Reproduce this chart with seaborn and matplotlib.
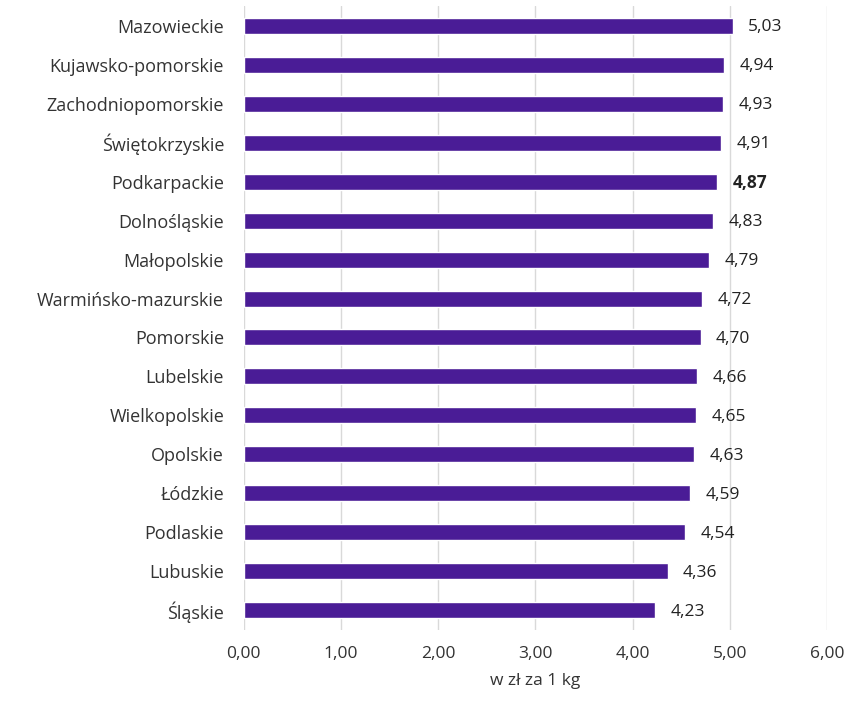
import pandas as pd
import matplotlib.pyplot as plt
import seaborn as sns

regions = ["Mazowieckie", "Kujawsko-pomorskie", "Zachodniopomorskie", "Świętokrzyskie",
           "Podkarpackie", "Dolnośląskie", "Małopolskie", "Warmińsko-mazurskie",
           "Pomorskie", "Lubelskie", "Wielkopolskie", "Opolskie", "Łódzkie",
           "Podlaskie", "Lubuskie", "Śląskie"]
prices = [5.03, 4.94, 4.93, 4.91, 4.87, 4.83, 4.79, 4.72, 4.70, 4.66, 4.65,
          4.63, 4.59, 4.54, 4.36, 4.23]
highlight = "Podkarpackie"
x_ticks = [0, 1, 2, 3, 4, 5, 6]

df = pd.DataFrame({"region": regions, "price": prices})

sns.set_style("white")
plt.rcParams["font.family"] = ["Open Sans", "DejaVu Sans"]

fig = plt.figure(figsize=(8.49, 7.02), dpi=100)
ax = fig.add_axes([0.287, 0.103, 0.687, 0.888])

sns.barplot(data=df, y="region", x="price", color="#4a1c96", saturation=1,
            width=0.41, orient="h", ax=ax, zorder=3)

for i, (r, v) in enumerate(zip(regions, prices)):
    bold = r == highlight
    ax.text(v + 0.16, i + 0.04, f"{v:.2f}".replace(".", ","), va="center", ha="left",
            fontsize=12.5, color="#222222", fontweight="bold" if bold else "normal")

ax.set_xlim(0, 6)
ax.set_xticks(x_ticks)
ax.set_xticklabels([f"{t:.2f}".replace(".", ",") for t in x_ticks], fontsize=12.5, color="#333333")
ax.tick_params(axis="y", labelsize=13, labelcolor="#333333", length=0, pad=14)
ax.tick_params(axis="x", length=0, pad=12)
ax.set_ylabel("")
ax.set_xlabel("w zł za 1 kg", fontsize=12.5, color="#333333", labelpad=8)
ax.grid(axis="x", color="#d9d9d9", linewidth=1, zorder=0)
for s in ax.spines.values():
    s.set_visible(False)

plt.savefig("out.png", dpi=100)
